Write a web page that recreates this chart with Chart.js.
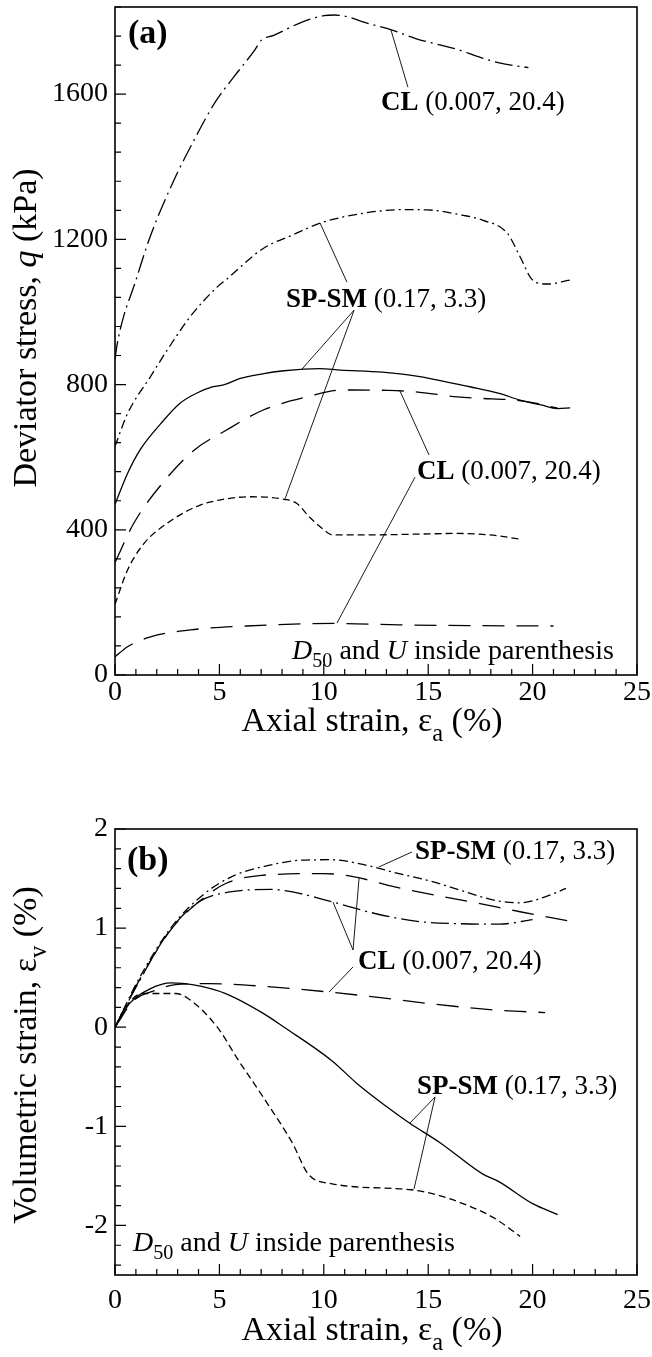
<!DOCTYPE html>
<html>
<head>
<meta charset="utf-8">
<script src="https://cdn.jsdelivr.net/npm/chart.js@4.4.1/dist/chart.umd.min.js"></script>
<style>
  html, body { margin: 0; padding: 0; background: #fff; }
  #wrap { position: relative; width: 652px; height: 1357px; }
  .panel { position: absolute; left: 0; width: 652px; }
  #pa { top: 0; height: 760px; }
  #pb { top: 760px; height: 597px; }
</style>
</head>
<body>
<div id="wrap">
  <div class="panel" id="pa"><canvas id="chartA"></canvas></div>
  <div class="panel" id="pb"><canvas id="chartB"></canvas></div>
</div>
<script>
// Ticks
const strainTicks = [0, 5, 10, 15, 20, 25];
const stressTicks = [0, 400, 800, 1200, 1600];
const volTicks = [-2, -1, 0, 1, 2];

// Panel (a): deviator stress q (kPa) vs axial strain (%)
const aClPeakX = [0, 0.1, 0.4, 0.9, 1.7, 2.8, 3.8, 4.8, 5.7, 6.7, 7.0, 7.6, 8.9, 10.0, 10.5, 11.2, 12.0, 13.2, 14.4, 16.4, 17.4, 18.4, 19.8];
const aClPeakQ = [870, 910, 985, 1070, 1210, 1360, 1475, 1578, 1648, 1722, 1748, 1762, 1797, 1816, 1818, 1812, 1797, 1778, 1753, 1723, 1703, 1686, 1673];

const aSpDashDotX = [0, 0.6, 1.7, 2.5, 3.6, 4.9, 5.3, 7.1, 8.5, 9.9, 11.8, 13.8, 15.0, 16.6, 17.6, 18.8, 19.4, 20.0, 20.7, 21.8];
const aSpDashDotQ = [630, 720, 822, 895, 987, 1069, 1088, 1175, 1212, 1246, 1271, 1282, 1281, 1267, 1253, 1216, 1152, 1088, 1077, 1088];

const aSpSolidX = [0, 0.6, 1.2, 2.2, 3.1, 3.9, 4.7, 5.2, 6.0, 7.0, 8.1, 9.8, 10.8, 12.8, 14.6, 15.8, 17.0, 18.4, 19.4, 20.4, 21.2, 21.8];
const aSpSolidQ = [470, 555, 620, 693, 748, 776, 794, 799, 817, 829, 838, 844, 840, 834, 822, 808, 794, 776, 757, 744, 734, 736];

const aClMidX = [0, 0.9, 2.4, 3.8, 5.2, 7.1, 9.2, 10.9, 13.1, 14.4, 16.4, 17.5, 19.0, 20.2, 21.2];
const aClMidQ = [310, 418, 537, 620, 670, 730, 766, 785, 784, 780, 766, 762, 758, 748, 735];

const aSpDashX = [0, 0.6, 1.4, 2.5, 3.9, 5.0, 6.5, 8.1, 8.7, 9.3, 10.0, 10.4, 11.4, 12.4, 14.4, 16.4, 17.4, 18.4, 19.4];
const aSpDashQ = [195, 289, 363, 418, 464, 482, 491, 484, 473, 436, 400, 386, 386, 386, 388, 390, 388, 383, 374];

const aClLowX = [0, 0.6, 1.7, 3.9, 6.3, 10.6, 13.6, 17.0, 21.0];
const aClLowQ = [50, 78, 105, 126, 135, 142, 138, 136, 135];

// Panel (b): volumetric strain (%) vs axial strain (%)
const bSpDashDotX = [0, 1.1, 2.7, 4.3, 5.7, 7.3, 8.9, 10.4, 11.8, 13.6, 15.2, 16.8, 18.2, 19.4, 20.6, 21.6];
const bSpDashDotV = [0, 0.47, 1.01, 1.35, 1.53, 1.63, 1.685, 1.69, 1.645, 1.55, 1.47, 1.365, 1.28, 1.255, 1.315, 1.40];

const bClDashX = [0, 1.1, 2.7, 4.1, 5.3, 6.9, 10.0, 11.4, 13.4, 15.4, 17.4, 19.4, 21.8];
const bClDashV = [0, 0.45, 0.99, 1.28, 1.45, 1.53, 1.55, 1.52, 1.415, 1.33, 1.25, 1.165, 1.07];

const bClDashDotX = [0, 1.1, 2.5, 3.9, 5.5, 7.5, 8.5, 10.4, 12.4, 14.4, 16.4, 18.4, 20.0];
const bClDashDotV = [0, 0.44, 0.94, 1.25, 1.365, 1.39, 1.365, 1.265, 1.15, 1.07, 1.045, 1.04, 1.085];

const bClLowX = [0, 0.9, 1.9, 2.9, 4.5, 7.3, 10.2, 12.4, 15.4, 18.4, 20.6];
const bClLowV = [0, 0.27, 0.37, 0.43, 0.44, 0.41, 0.356, 0.306, 0.23, 0.17, 0.148];

const bSpSolidX = [0, 0.7, 1.7, 2.7, 3.7, 5.3, 7.1, 8.1, 10.4, 11.6, 13.0, 14.1, 15.6, 17.6, 18.4, 20.0, 21.2];
const bSpSolidV = [0, 0.24, 0.39, 0.447, 0.43, 0.34, 0.14, 0.0, -0.34, -0.57, -0.80, -0.966, -1.17, -1.48, -1.56, -1.78, -1.89];

const bSpDashX = [0, 0.5, 1.3, 2.9, 3.5, 4.9, 5.9, 7.3, 8.5, 9.25, 10.4, 14.2, 15.2, 16.8, 18.2, 19.4];
const bSpDashV = [0, 0.2, 0.34, 0.34, 0.29, 0.0, -0.33, -0.77, -1.17, -1.48, -1.58, -1.64, -1.68, -1.79, -1.93, -2.11];

const FONT = '"Liberation Serif", "Times New Roman", serif';

// line styles
const SOLID = [];
const LONG_DASH = [22, 12];
const SHORT_DASH = [7, 4];
const CL_DASH_DOT = [18, 5, 2, 5];
const SP_DASH_DOT = [9, 4, 2, 4];

function pts(xs, ys) {
  return xs.map((v, i) => ({ x: v, y: ys[i] }));
}

function series(xs, ys, dash) {
  return {
    data: pts(xs, ys),
    borderColor: "#000",
    borderWidth: 1.3,
    borderDash: dash,
    pointRadius: 0,
    fill: false,
    cubicInterpolationMode: "monotone",
  };
}

function isMajor(v, majors) {
  return majors.some((m) => Math.abs(m - v) < 1e-6);
}

// Rich text: parts = [[text, style]], style '' | 'b' | 'i' | 'sub'
function drawRich(ctx, parts, x, y, size, align) {
  const segs = parts.map(([t, s]) => {
    const sz = s === "sub" ? size * 0.72 : size;
    const font = (s === "b" ? "bold " : "") + (s === "i" ? "italic " : "") + sz + "px " + FONT;
    ctx.font = font;
    return { t, font, w: ctx.measureText(t).width, dy: s === "sub" ? size * 0.28 : 0 };
  });
  const total = segs.reduce((a, s) => a + s.w, 0);
  let cx = align === "center" ? x - total / 2 : align === "right" ? x - total : x;
  ctx.textAlign = "left";
  ctx.textBaseline = "alphabetic";
  ctx.fillStyle = "#000";
  segs.forEach((s) => {
    ctx.font = s.font;
    ctx.fillText(s.t, cx, y + s.dy);
    cx += s.w;
  });
}

const d50Note = [["D", "i"], ["50", "sub"], [" and ", ""], ["U", "i"], [" inside parenthesis", ""]];
const clNote = [["CL", "b"], [" (0.007, 20.4)", ""]];
const spNote = [["SP-SM", "b"], [" (0.17, 3.3)", ""]];

// annotations per panel (positions in data units)
const panelNotes = {
  chartA: {
    xMajor: strainTicks,
    yMajor: stressTicks,
    xTitle: [["Axial strain, ε", ""], ["a", "sub"], [" (%)", ""]],
    yTitle: [["Deviator stress, ", ""], ["q", "i"], [" (kPa)", ""]],
    xTitleDy: 56,
    yTitleDy: -13,
    notes: [
      { parts: [["(a)", "b"]], x: 0.62, y: 1741, size: 34 },
      { parts: clNote, x: 12.74, y: 1556, size: 27 },
      { parts: spNote, x: 8.19, y: 1013, size: 27 },
      { parts: clNote, x: 14.46, y: 540, size: 27 },
      { parts: d50Note, x: 8.48, y: 44, size: 28 },
    ],
    leaders: [
      [13.22, 1776, 14.03, 1619],
      [9.82, 1245, 11.11, 1082],
      [11.45, 1005, 8.96, 843],
      [11.45, 1005, 8.14, 485],
      [15.04, 606, 13.65, 782],
      [14.37, 545, 10.63, 143],
    ],
  },
  chartB: {
    xMajor: strainTicks,
    yMajor: volTicks,
    xTitle: [["Axial strain, ε", ""], ["a", "sub"], [" (%)", ""]],
    yTitle: [["Volumetric strain, ε", ""], ["v", "sub"], [" (%)", ""]],
    xTitleDy: 65,
    yTitleDy: 3,
    notes: [
      { parts: [["(b)", "b"]], x: 0.57, y: 1.586, size: 34 },
      { parts: spNote, x: 14.37, y: 1.697, size: 27 },
      { parts: clNote, x: 11.64, y: 0.587, size: 27 },
      { parts: spNote, x: 14.46, y: -0.674, size: 27 },
      { parts: d50Note, x: 0.86, y: -2.258, size: 28 },
    ],
    leaders: [
      [14.22, 1.768, 12.64, 1.617],
      [11.4, 0.779, 10.44, 1.263],
      [11.4, 0.779, 11.69, 1.506],
      [11.4, 0.608, 10.25, 0.355],
      [15.33, -0.704, 14.13, -0.966],
      [15.33, -0.704, 14.32, -1.632],
    ],
  },
};

// Frame, inward ticks, titles and annotations
const framePlugin = {
  id: "frame",
  afterDraw(chart) {
    const cfg = panelNotes[chart.canvas.id];
    const { ctx, chartArea: a } = chart;
    const xs = chart.scales.x;
    const ys = chart.scales.y;
    ctx.save();
    ctx.strokeStyle = "#000";
    ctx.setLineDash([]);

    ctx.lineWidth = 1.2;
    ctx.beginPath();
    xs.ticks.forEach((t) => {
      const px = xs.getPixelForValue(t.value);
      const len = isMajor(t.value, cfg.xMajor) ? 11 : 6;
      ctx.moveTo(px, a.bottom);
      ctx.lineTo(px, a.bottom - len);
    });
    ys.ticks.forEach((t) => {
      const py = ys.getPixelForValue(t.value);
      const len = isMajor(t.value, cfg.yMajor) ? 11 : 6;
      ctx.moveTo(a.left, py);
      ctx.lineTo(a.left + len, py);
    });
    ctx.stroke();

    ctx.lineWidth = 1.6;
    ctx.strokeRect(a.left, a.top, a.right - a.left, a.bottom - a.top);

    // leader lines
    ctx.lineWidth = 0.9;
    ctx.beginPath();
    cfg.leaders.forEach(([x1, y1, x2, y2]) => {
      ctx.moveTo(xs.getPixelForValue(x1), ys.getPixelForValue(y1));
      ctx.lineTo(xs.getPixelForValue(x2), ys.getPixelForValue(y2));
    });
    ctx.stroke();

    cfg.notes.forEach((n) => {
      drawRich(ctx, n.parts, xs.getPixelForValue(n.x), ys.getPixelForValue(n.y), n.size, "left");
    });

    // axis titles
    drawRich(ctx, cfg.xTitle, (a.left + a.right) / 2 - 4, a.bottom + cfg.xTitleDy, 34, "center");
    ctx.translate(36, (a.top + a.bottom) / 2 + cfg.yTitleDy);
    ctx.rotate(-Math.PI / 2);
    drawRich(ctx, cfg.yTitle, 0, 0, 34, "center");
    ctx.restore();
  },
};

function makeChart(id, datasets, yMin, yMax, yStep, yMajor, pad, xHeight, xPad) {
  return new Chart(document.getElementById(id), {
    type: "line",
    data: { datasets },
    plugins: [framePlugin],
    options: {
      responsive: true,
      maintainAspectRatio: false,
      animation: false,
      layout: { padding: pad },
      plugins: { legend: { display: false }, tooltip: { enabled: false } },
      scales: {
        x: {
          type: "linear",
          min: 0,
          max: 25,
          grid: { display: false, drawTicks: false },
          border: { display: false },
          afterBuildTicks: (scale) => {
            const t = [];
            for (let k = 0; k <= 25; k++) t.push({ value: k });
            scale.ticks = t;
          },
          afterFit: (scale) => {
            scale.height = xHeight;
            scale.paddingLeft = 0;
            scale.paddingRight = 0;
          },
          ticks: {
            autoSkip: false,
            maxRotation: 0,
            padding: xPad,
            color: "#000",
            font: { family: FONT, size: 28 },
            callback: (v) => (isMajor(v, strainTicks) ? String(v) : ""),
          },
        },
        y: {
          type: "linear",
          min: yMin,
          max: yMax,
          grid: { display: false, drawTicks: false },
          border: { display: false },
          afterBuildTicks: (scale) => {
            const t = [];
            const n0 = Math.ceil(yMin / yStep - 1e-6);
            const n1 = Math.floor(yMax / yStep + 1e-6);
            for (let k = n0; k <= n1; k++) t.push({ value: Math.round(k * yStep * 1000) / 1000 });
            scale.ticks = t;
          },
          afterFit: (scale) => {
            scale.width = 115;
            scale.paddingTop = 0;
            scale.paddingBottom = 0;
          },
          ticks: {
            autoSkip: false,
            padding: 7,
            color: "#000",
            font: { family: FONT, size: 28 },
            callback: (v) => (isMajor(v, yMajor) ? String(Math.round(v)) : ""),
          },
        },
      },
    },
  });
}

document.addEventListener("DOMContentLoaded", function () {
  makeChart(
    "chartA",
    [
      series(aClPeakX, aClPeakQ, CL_DASH_DOT),
      series(aSpDashDotX, aSpDashDotQ, SP_DASH_DOT),
      series(aSpSolidX, aSpSolidQ, SOLID),
      series(aClMidX, aClMidQ, LONG_DASH),
      series(aSpDashX, aSpDashQ, SHORT_DASH),
      series(aClLowX, aClLowQ, LONG_DASH),
    ],
    0, 1840, 80, stressTicks,
    { left: 0, right: 15, top: 7, bottom: 0 },
    85, 1
  );

  makeChart(
    "chartB",
    [
      series(bSpDashDotX, bSpDashDotV, SP_DASH_DOT),
      series(bClDashX, bClDashV, LONG_DASH),
      series(bClDashDotX, bClDashDotV, CL_DASH_DOT),
      series(bClLowX, bClLowV, LONG_DASH),
      series(bSpSolidX, bSpSolidV, SOLID),
      series(bSpDashX, bSpDashV, SHORT_DASH),
    ],
    -2.5, 2, 0.2, volTicks,
    { left: 0, right: 15, top: 69, bottom: 0 },
    82, 9
  );
});
</script>
</body>
</html>
